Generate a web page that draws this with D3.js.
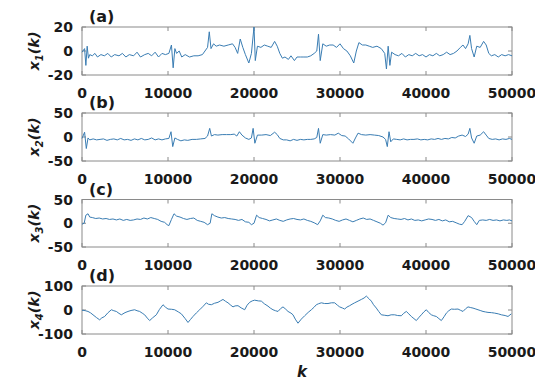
<!DOCTYPE html>
<meta charset="utf-8">
<script src="https://d3js.org/d3.v7.min.js"></script>
<style>
  body { margin: 0; background: #fff; }
  text { font-family: "DejaVu Sans", sans-serif; font-weight: bold; fill: #1a1a1a; }
</style>
<svg id="chart" width="535" height="383"></svg>
<script>

// x-axis ticks (shared by all panels)
var kTicks = [0, 10000, 20000, 30000, 40000, 50000];

var panelNames = ["(a)", "(b)", "(c)", "(d)"];
var ySubs = ["1", "2", "3", "4"];
var yDomains = [[-20, 20], [-50, 50], [-50, 50], [-100, 100]];
var yTicks = [[-20, 0, 20], [-50, 0, 50], [-50, 0, 50], [-100, 0, 100]];

// [k, x1(k)]
var x1 = [[0,-1],[300,2],[450,-12],[600,4],[750,-6],[900,-3],[1200,-4],[1500,-2],[1800,-5],[2200,-3],
  [2600,-4],[3000,-2],[3400,-5],[3800,-3],[4300,-4],[4700,-2],[5100,-5],[5500,-3],[6000,-4],[6400,-1],
  [6800,-5],[7300,-3],[7700,-2],[8100,-4],[8500,-1],[8900,-5],[9300,-2],[9700,-3],[10100,-2],[10400,5],
  [10600,-14],[10800,2],[11000,-2],[11300,0],[11600,-5],[12000,-3],[12500,-5],[13000,-4],[13500,-4],[14000,-3],
  [14300,0],[14600,3],[14800,16],[15000,2],[15300,6],[15600,4],[16000,5],[16500,4],[17000,5],[17500,6],
  [17800,3],[18100,-2],[18400,10],[18700,3],[19000,-3],[19400,-10],[19700,-2],[20000,20],[20150,-8],[20400,4],
  [20800,3],[21200,5],[21600,4],[22000,3],[22400,8],[22700,4],[23000,-2],[23300,-6],[23600,-5],[24000,-7],
  [24300,-4],[24700,-8],[25000,-5],[25400,-5],[25800,-5],[26200,-5],[26600,-4],[27000,-2],[27300,0],[27500,14],
  [27700,-8],[28000,6],[28400,4],[28800,5],[29200,5],[29600,3],[30000,6],[30400,2],[30800,0],[31200,-4],
  [31600,-10],[31900,0],[32200,7],[32600,5],[33000,5],[33400,4],[33800,3],[34300,4],[34800,2],[35200,-2],
  [35400,-15],[35600,4],[35800,-12],[36000,-1],[36400,-3],[36800,-4],[37200,-2],[37600,-5],[38000,-3],[38400,-4],
  [38800,-2],[39200,-4],[39600,-3],[40000,-5],[40400,-3],[40800,-4],[41200,-2],[41600,-4],[42000,-3],[42400,-1],
  [42800,-3],[43200,-2],[43600,0],[44000,3],[44300,5],[44600,2],[44900,6],[45100,13],[45300,2],[45600,-5],
  [45900,4],[46300,3],[46700,8],[47000,5],[47300,-2],[47600,-4],[48000,-3],[48400,-5],[48800,-3],[49200,-4],
  [49600,-3],[50000,-4]];

// [k, x2(k)]
var x2 = [[0,-3],[300,10],[500,-24],[700,-2],[900,-6],[1300,-4],[1700,-6],[2100,-5],[2500,-4],[2900,-7],
  [3300,-5],[3700,-4],[4100,-6],[4500,-3],[4900,-6],[5300,-5],[5700,-7],[6100,-4],[6500,-6],[6900,-3],
  [7300,-6],[7700,-5],[8100,-2],[8500,-6],[8900,-4],[9300,-6],[9700,-4],[10100,-3],[10350,11],[10550,-20],
  [10800,-2],[11100,-5],[11500,-8],[11900,-6],[12300,-7],[12800,-5],[13300,-5],[13800,-4],[14300,-3],[14600,2],
  [14850,18],[15050,2],[15400,5],[15800,4],[16300,5],[16800,5],[17300,5],[17700,6],[18000,2],[18300,11],
  [18600,4],[19000,-2],[19400,-5],[19700,-2],[19900,18],[20100,-13],[20400,4],[20900,4],[21400,5],[21900,3],
  [22400,10],[22700,5],[23000,-3],[23400,-6],[23800,-6],[24200,-8],[24600,-5],[25000,-7],[25400,-5],[25800,-6],
  [26200,-5],[26600,-5],[27000,-4],[27300,-1],[27500,18],[27700,-13],[28000,5],[28400,4],[28900,5],[29400,4],
  [29800,8],[30200,3],[30600,2],[31000,-4],[31500,-13],[31800,-2],[32100,8],[32500,5],[33000,4],[33500,5],
  [34000,4],[34500,3],[35000,0],[35300,-5],[35500,-20],[35700,11],[35900,-10],[36200,-4],[36600,-5],[37000,-6],
  [37400,-4],[37800,-6],[38200,-5],[38600,-5],[39000,-4],[39400,-6],[39800,-5],[40200,-6],[40600,-4],[41000,-5],
  [41400,-3],[41800,-5],[42200,-3],[42600,-4],[43000,-1],[43400,-2],[43800,2],[44200,4],[44600,1],[44900,6],
  [45100,18],[45300,-2],[45600,-13],[45900,2],[46300,4],[46700,11],[47000,4],[47300,-3],[47700,-5],[48100,-4],
  [48500,-6],[48900,-4],[49300,-5],[49700,-3],[50000,-5]];

// [k, x3(k)]
var x3 = [[0,-2],[250,0],[450,17],[700,20],[900,13],[1200,12],[1600,10],[2000,11],[2400,9],[2800,10],
  [3200,8],[3600,9],[4000,7],[4400,9],[4800,6],[5200,8],[5600,6],[6000,7],[6400,9],[6800,8],
  [7200,11],[7600,9],[8000,12],[8400,10],[8800,8],[9200,4],[9600,2],[9900,-3],[10100,-5],[10400,8],
  [10700,20],[11000,15],[11400,13],[11800,10],[12200,8],[12600,10],[13000,11],[13400,6],[13800,4],[14200,2],
  [14600,-3],[14900,0],[15100,20],[15400,16],[15800,13],[16200,11],[16600,12],[17000,10],[17400,9],[17800,8],
  [18200,6],[18600,8],[19000,3],[19400,2],[19700,-3],[20000,0],[20300,17],[20600,12],[21000,10],[21400,8],
  [21800,5],[22200,7],[22600,9],[23000,6],[23400,4],[23800,7],[24200,9],[24600,10],[25000,8],[25400,7],
  [25800,9],[26200,6],[26600,4],[27000,1],[27400,-3],[27700,5],[28000,17],[28300,12],[28700,11],[29100,9],
  [29500,6],[29900,4],[30300,7],[30700,9],[31100,6],[31500,3],[31900,6],[32300,9],[32700,11],[33100,8],
  [33500,9],[33900,6],[34300,3],[34700,0],[35000,-4],[35300,1],[35600,17],[35900,12],[36300,10],[36700,9],
  [37100,8],[37500,10],[37900,7],[38300,9],[38700,6],[39100,7],[39500,5],[39900,7],[40300,9],[40700,8],
  [41100,6],[41500,8],[41900,5],[42300,7],[42700,3],[43100,4],[43500,1],[43900,-2],[44200,-3],[44500,4],
  [44900,16],[45300,12],[45600,4],[45900,-3],[46200,6],[46600,7],[47000,6],[47400,8],[47800,6],[48200,7],
  [48600,5],[49000,7],[49400,6],[49700,7],[50000,5]];

// [k, x4(k)]
var x4 = [[0,-2],[116,-1],[400,-3],[698,-6],[1000,-12],[1279,-20],[1700,-32],[2054,-41],[2300,-33],[2636,-27],
  [3000,-12],[3411,1],[3700,-3],[3992,-6],[4300,-14],[4574,-20],[5000,-11],[5349,-6],[5700,-2],[6124,1],
  [6400,-3],[6705,-6],[7000,-13],[7287,-20],[7600,-34],[7868,-44],[8200,-33],[8643,-20],[9000,2],[9419,22],
  [9700,12],[10000,4],[10400,3],[10775,1],[11200,-8],[11550,-16],[12000,-36],[12326,-52],[12600,-40],[12907,-27],
  [13300,-12],[13682,1],[14100,16],[14457,30],[14700,24],[15039,22],[15400,28],[15814,32],[16100,38],[16395,44],
  [16700,36],[16977,30],[17300,20],[17558,13],[17800,17],[18140,18],[18500,9],[18915,1],[19200,20],[19496,32],
  [19800,38],[20078,41],[20500,38],[20853,37],[21200,26],[21628,16],[21900,8],[22209,1],[22500,-3],[22791,-6],
  [23100,6],[23372,13],[23700,3],[23954,-6],[24300,-13],[24535,-20],[24800,-38],[25116,-55],[25500,-38],[25891,-24],
  [26300,-10],[26667,1],[27000,12],[27248,22],[27500,26],[27830,30],[28200,27],[28605,27],[29000,30],[29380,30],
  [29700,20],[29961,13],[30300,8],[30543,4],[30800,12],[31124,18],[31400,24],[31706,30],[32100,37],[32481,44],
  [32800,50],[33062,58],[33400,46],[33644,37],[33900,22],[34225,8],[34500,-6],[34807,-20],[35200,-22],[35582,-24],
  [35950,-20],[36357,-20],[36700,-23],[37132,-24],[37400,-14],[37713,-6],[38000,-16],[38295,-27],[38600,-36],[38876,-44],
  [39200,-30],[39458,-20],[39750,-8],[40039,1],[40300,-10],[40620,-20],[40900,-24],[41202,-27],[41500,-36],[41783,-44],
  [42100,-28],[42365,-13],[42650,-3],[42946,4],[43300,3],[43721,4],[44000,-1],[44303,-6],[44600,5],[44884,13],
  [45200,10],[45465,8],[45800,4],[46047,1],[46300,-2],[46628,-6],[46900,-8],[47209,-10],[47600,-11],[47985,-13],
  [48400,-16],[48760,-20],[49200,-23],[49535,-27],[49923,-16]];

var series = [x1, x2, x3, x4];

// plot-area geometry (pixels)
var left = 82, right = 512;
var tops = [27, 113, 199.5, 286];
var bottoms = [75, 161, 247, 334];
var tickLen = 4;

var svg = d3.select("#chart");

var x = d3.scaleLinear().domain([0, 50000]).range([left, right]);

for (var i = 0; i < 4; i++) {
  var y = d3.scaleLinear().domain(yDomains[i]).range([bottoms[i], tops[i]]);
  var g = svg.append("g");

  // box
  g.append("rect")
    .attr("x", left).attr("y", tops[i])
    .attr("width", right - left).attr("height", bottoms[i] - tops[i])
    .attr("fill", "none").attr("stroke", "#8a8a8a").attr("stroke-width", 1);

  // inward ticks on all four sides
  kTicks.forEach(function (t) {
    g.append("line").attr("x1", x(t)).attr("x2", x(t))
      .attr("y1", bottoms[i]).attr("y2", bottoms[i] - tickLen)
      .attr("stroke", "#8a8a8a");
    g.append("line").attr("x1", x(t)).attr("x2", x(t))
      .attr("y1", tops[i]).attr("y2", tops[i] + tickLen)
      .attr("stroke", "#8a8a8a");
    g.append("text")
      .attr("x", x(t)).attr("y", bottoms[i] + 22.5)
      .attr("text-anchor", "middle")
      .style("font-size", "14px")
      .text(t);
  });
  yTicks[i].forEach(function (t) {
    g.append("line").attr("x1", left).attr("x2", left + tickLen)
      .attr("y1", y(t)).attr("y2", y(t)).attr("stroke", "#8a8a8a");
    g.append("line").attr("x1", right).attr("x2", right - tickLen)
      .attr("y1", y(t)).attr("y2", y(t)).attr("stroke", "#8a8a8a");
    g.append("text")
      .attr("x", left - 9).attr("y", y(t) + 5)
      .attr("text-anchor", "end")
      .style("font-size", "14px")
      .text(t);
  });

  // the trace
  var line = d3.line()
    .x(function (d) { return x(d[0]); })
    .y(function (d) { return y(d[1]); });
  g.append("path")
    .datum(series[i])
    .attr("d", line)
    .attr("fill", "none")
    .attr("stroke", "#3a7db3")
    .attr("stroke-width", 1);

  // panel tag
  g.append("text")
    .attr("x", 89).attr("y", tops[i] - 5)
    .style("font-size", "16px")
    .text(panelNames[i]);

  // y label x_i(k), rotated
  var cy = (tops[i] + bottoms[i]) / 2;
  var lab = g.append("text")
    .attr("transform", "translate(39," + cy + ") rotate(-90)")
    .attr("text-anchor", "middle")
    .style("font-size", "14.5px")
    .style("font-style", "italic");
  lab.append("tspan").text("x");
  lab.append("tspan").attr("dy", 4).style("font-size", "10px").text(ySubs[i]);
  lab.append("tspan").attr("dy", -4).text("(k)");
}

svg.append("text")
  .attr("x", 302).attr("y", 377)
  .attr("text-anchor", "middle")
  .style("font-size", "15px")
  .style("font-style", "italic")
  .text("k");

</script>
